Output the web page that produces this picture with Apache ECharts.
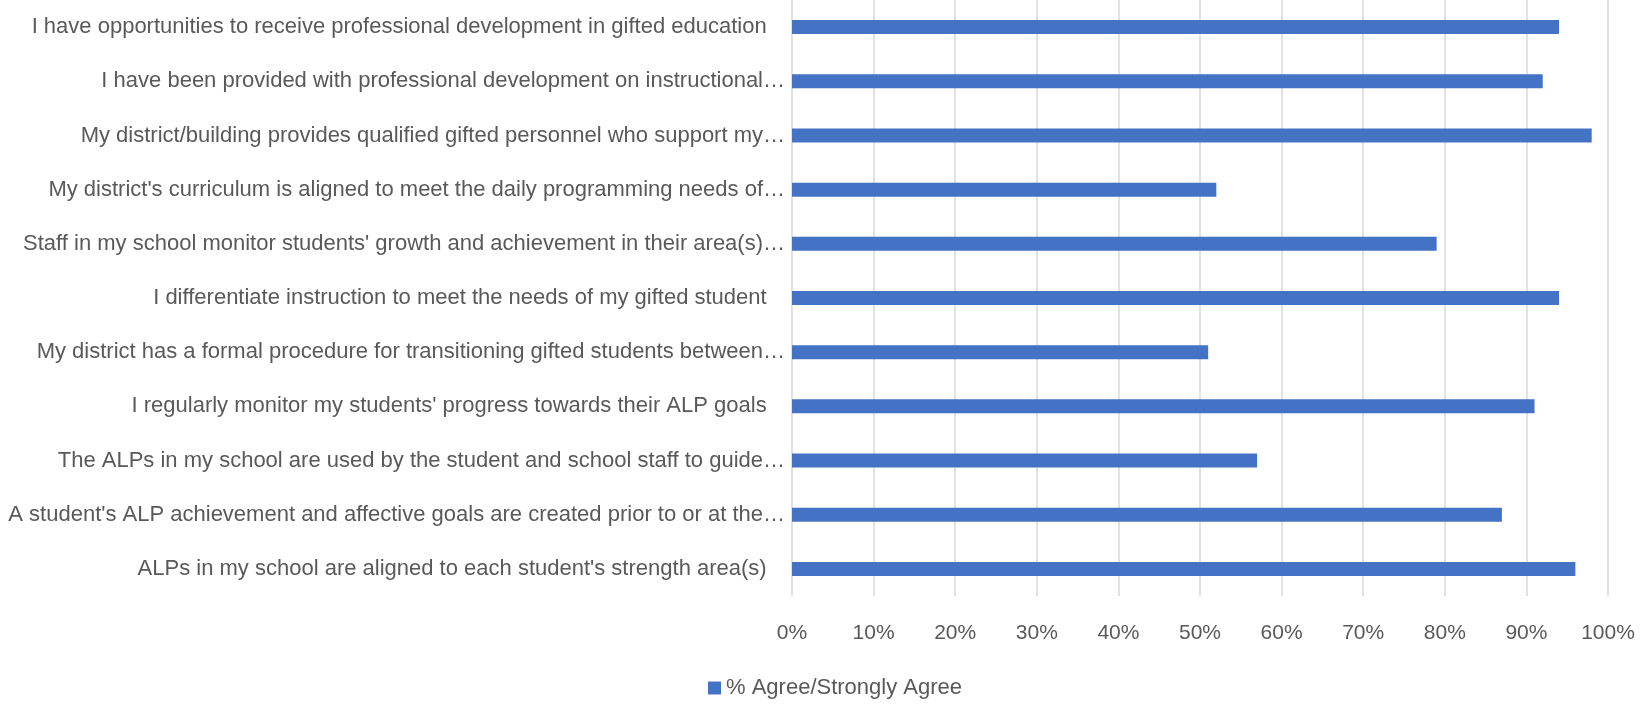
<!DOCTYPE html>
<html>
<head>
<meta charset="utf-8">
<script src="https://cdn.jsdelivr.net/npm/echarts@6/dist/echarts.min.js"></script>
<style>
html,body{margin:0;padding:0;background:#fff;}
#chart{width:1643px;height:704px;}
</style>
</head>
<body>
<div id="chart"></div>
<script>
const categories = [
  "I have opportunities to receive professional development in gifted education   ",
  "I have been provided with professional development on instructional…",
  "My district/building provides qualified gifted personnel who support my…",
  "My district's curriculum is aligned to meet the daily programming needs of…",
  "Staff in my school monitor students' growth and achievement in their area(s)…",
  "I differentiate instruction to meet the needs of my gifted student   ",
  "My district has a formal procedure for transitioning gifted students between…",
  "I regularly monitor my students' progress towards their ALP goals   ",
  "The ALPs in my school are used by the student and school staff to guide…",
  "A student's ALP achievement and affective goals are created prior to or at the…",
  "ALPs in my school are aligned to each student's strength area(s)   "
];
const seriesName = "% Agree/Strongly Agree";
const agreeValues = [94, 92, 98, 52, 79, 94, 51, 91, 57, 87, 96];
const tickMin = 0, tickMax = 100, tickStep = 10;

const FONT = "'Liberation Sans', Arial, sans-serif";
const chart = echarts.init(document.getElementById('chart'), null, {renderer: 'canvas'});
chart.setOption({
  backgroundColor: '#ffffff',
  animation: false,
  grid: {left: 792, right: 35, top: 0, bottom: 108, containLabel: false},
  xAxis: {
    type: 'value', min: tickMin, max: tickMax, interval: tickStep,
    axisLine: {show: false}, axisTick: {show: false},
    splitLine: {show: true, lineStyle: {color: '#D9D9D9', width: 1.5}},
    axisLabel: {formatter: v => v + '%', color: '#595959', fontFamily: FONT, fontSize: 21, margin: 27}
  },
  yAxis: {
    type: 'category', data: categories, inverse: true,
    axisLine: {show: false}, axisTick: {show: false},
    axisLabel: {color: '#595959', fontFamily: FONT, fontSize: 22, margin: 7}
  },
  legend: {
    data: [seriesName], left: 703, top: 672,
    itemWidth: 13, itemHeight: 13, itemGap: 10, icon: 'rect',
    textStyle: {color: '#595959', fontFamily: FONT, fontSize: 22}
  },
  series: [{
    name: seriesName, type: 'bar', data: agreeValues, barWidth: 14,
    itemStyle: {color: '#4472C4'}
  }]
});
</script>
</body>
</html>
